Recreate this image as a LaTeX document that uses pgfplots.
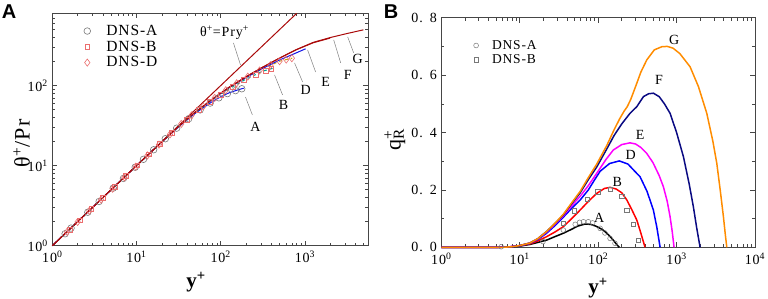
\documentclass[border=0pt]{standalone}
\usepackage{fontspec}
\setmainfont{Liberation Serif}[LetterSpace=6]
\newfontfamily\panelfont{Liberation Sans}
\usepackage{pgfplots}
\pgfplotsset{compat=1.18}
\definecolor{dred}{RGB}{170,10,10}
\definecolor{ablue}{RGB}{20,20,230}
\definecolor{teal2}{RGB}{0,160,140}
\definecolor{olive2}{RGB}{200,165,0}
\definecolor{pinkm}{RGB}{235,110,110}
\definecolor{grym}{RGB}{120,120,120}
\definecolor{orng}{RGB}{255,140,0}
\definecolor{navy2}{RGB}{10,10,130}
\definecolor{magn}{RGB}{255,0,255}
\definecolor{axc}{RGB}{70,70,70}
\pgfplotsset{
  common/.style={
    scale only axis, clip=false,
    tick align=inside, major tick length=5pt, minor tick length=3pt,
    axis line style={axc, line width=0.8pt},
    every tick/.style={axc, line width=0.6pt},
    ticklabel style={font=\fontsize{14}{14}\selectfont, text=black},
    xticklabel style={yshift=-2pt},
    yticklabel style={xshift=-1pt},
  }
}
\begin{document}
\begin{tikzpicture}
\useasboundingbox (0,0) rectangle (768pt,298pt);
% ---------------- Panel A ----------------
\begin{axis}[common,
  at={(52.3pt,52.3pt)}, anchor=south west,
  width=315.7pt, height=232.4pt,
  xmode=log, ymode=log, xmin=1, xmax=5620, ymin=1, ymax=800,
  xtick={1,10,100,1000}, xticklabels={10\textsuperscript{0},10\textsuperscript{1},10\textsuperscript{2},10\textsuperscript{3}},
  ytick={1,10,100}, yticklabels={10\textsuperscript{0},10\textsuperscript{1},10\textsuperscript{2}},
  minor xtick={2,3,4,5,6,7,8,9,20,30,40,50,60,70,80,90,200,300,400,500,600,700,800,900,2000,3000,4000,5000},
  minor ytick={2,3,4,5,6,7,8,9,20,30,40,50,60,70,80,90,200,300,400,500,600,700},
  xlabel={\bfseries y\textsuperscript{+}},
  ylabel={θ\textsuperscript{+}/Pr},
  xlabel style={at={(axis description cs:0.455,-0.156)}, anchor=center, font=\fontsize{21}{21}\selectfont},
  ylabel style={at={(axis description cs:-0.097,0.44)}, anchor=center, font=\fontsize{22}{22}\selectfont},
  legend image code/.code={\draw[#1] plot coordinates {(5pt,0pt)}; \path[draw=none,fill=none] (0pt,0pt) -- (22pt,0pt);},
  legend style={draw=none, fill=none, at={(0.088,0.967)}, anchor=north west,
    font=\fontsize{15.5}{17}\selectfont, row sep=0pt, inner sep=2pt},
  legend cell align=left,
]
\addplot[only marks, mark=o, mark size=3.3pt, grym, line width=0.6pt] coordinates {
(1.42,1.41)(1.67,1.66)(2.64,2.62)(3.6,3.57)(5.3,5.25)(7.0,6.93)(9.65,9.55)(12.1,12)(16,15.8)(22,21.7)(30,29.4)(41.7,38.6)(57,49.7)(75,60.5)(95,70.3)(120,79.4)(150,86.5)(178,91.3)};
\addlegendentry{DNS-A}
\addplot[only marks, mark=square, mark size=2.4pt, pinkm, line width=0.6pt] coordinates {
(1.6,1.58)(2.1,2.08)(2.9,2.87)(4.0,3.96)(5.5,5.45)(7.5,7.43)(10.2,10.1)(14,13.9)(19,18.8)(26,25.6)(40,37.8)(55,49.7)(75,63.2)(100,77.6)(140,97.2)(190,116.8)(260,137.4)(340,154.5)(400,162.2)};
\addlegendentry{DNS-B}
\addplot[only marks, mark=diamond, mark size=3.6pt, pinkm, line width=0.6pt] coordinates {
(1.5,1.49)(2.0,1.98)(2.75,2.72)(3.8,3.76)(5.2,5.15)(7.2,7.13)(9.8,9.7)(13.5,13.4)(18.5,18.3)(25,24.6)(34,33.2)(45,42.4)(62,55)(85,70.2)(115,87.5)(155,107)(210,129.4)(290,154.5)(390,180)(500,201.8)(600,211.3)(700,219.8)};
\addlegendentry{DNS-D}
% curves
\addplot[ablue, line width=1pt, forget plot] coordinates {
(1,1)(10,10)(20,19.8)(31.6,30.5)(50.1,45.2)(79.4,63.1)(100,72.4)(125.9,81.3)(158.5,88.1)(188,92.9)};
\addplot[teal2, line width=1pt, dashed, forget plot] coordinates {
(1,1)(10,10)(20,19.8)(31.6,30.8)(50.1,46.2)(79.4,66.1)(125.9,91.2)(199.5,120.2)(316,151.4)(420,165)};
\addplot[olive2, line width=1pt, dashed, forget plot] coordinates {
(1,1)(10,10)(20,19.8)(31.6,30.9)(50.1,46.7)(79.4,66.8)(125.9,93.3)(199.5,125.9)(316,162.2)(501,201.8)(708,220.3)};
\addplot[ablue, line width=1pt, forget plot] coordinates {
(1,1)(10,10)(20,19.8)(31.6,30.9)(50.1,46.6)(79.4,67)(125.9,94.4)(199.5,125.9)(316,164)(501,209)(794,257)(1019,288)};
\addplot[dred, line width=1pt, forget plot] coordinates {
(1,1)(10,10)(20,19.8)(31.6,30.9)(50.1,46.8)(79.4,67.6)(125.9,95.5)(199.5,128.8)(316,170)(501,221)(794,281)(1259,343)(1995,392)};
\addplot[dred, line width=1pt, forget plot] coordinates {
(1,1)(10,10)(20,19.8)(31.6,30.9)(50.1,46.8)(79.4,67.6)(125.9,95.5)(199.5,128.8)(316,170)(501,221)(794,282)(1259,347)(1995,398)(3162,447)(4955,497)};
\addplot[dred, line width=1pt, forget plot] coordinates {(1,1)(800,800)};
% annotations
\draw[gray, line width=0.5pt] (axis cs:141.6,342) -- (axis cs:172,181);
\draw[gray, line width=0.5pt] (axis cs:197,72) -- (axis cs:238,43);
\draw[gray, line width=0.5pt] (axis cs:436,136) -- (axis cs:543,76.6);
\draw[gray, line width=0.5pt] (axis cs:754,192) -- (axis cs:940,111);
\draw[gray, line width=0.5pt] (axis cs:1077,279) -- (axis cs:1341,148);
\draw[gray, line width=0.5pt] (axis cs:2197,373) -- (axis cs:2663,192);
\draw[gray, line width=0.5pt] (axis cs:3224,406) -- (axis cs:3800,256);
\begin{scope}[every node/.style={font=\fontsize{14}{14}\selectfont, inner sep=0pt}]
\node at (axis cs:111,456) {θ\textsuperscript{+}=Pry\textsuperscript{+}};
\node at (axis cs:259,30.5) {A};
\node at (axis cs:558,57) {B};
\node at (axis cs:1019,88) {D};
\node at (axis cs:1763,111) {E};
\node at (axis cs:3224,136) {F};
\node at (axis cs:4240,216) {G};
\end{scope}
\end{axis}
% ---------------- Panel B ----------------
\begin{axis}[common,
  at={(441.3pt,50.7pt)}, anchor=south west,
  width=313.7pt, height=229.6pt,
  xmode=log, xmin=1, xmax=10000, ymin=0, ymax=0.8,
  xtick={1,10,100,1000,10000}, xticklabels={10\textsuperscript{0},10\textsuperscript{1},10\textsuperscript{2},10\textsuperscript{3},10\textsuperscript{4}},
  minor xtick={2,3,4,5,6,7,8,9,20,30,40,50,60,70,80,90,200,300,400,500,600,700,800,900,2000,3000,4000,5000,6000,7000,8000,9000},
  ytick={0,0.2,0.4,0.6,0.8},
  yticklabels={0.\hspace{0.5em}0,0.\hspace{0.5em}2,0.\hspace{0.5em}4,0.\hspace{0.5em}6,0.\hspace{0.5em}8},
  minor ytick={0.1,0.3,0.5,0.7},
  xlabel={\bfseries y\textsuperscript{+}},
  ylabel={q\rlap{\textsuperscript{+}}\textsubscript{R}},
  xlabel style={at={(axis description cs:0.5,-0.177)}, anchor=center, font=\fontsize{21}{21}\selectfont},
  ylabel style={at={(axis description cs:-0.148,0.467)}, anchor=center, font=\fontsize{22}{22}\selectfont},
  legend image code/.code={\draw[#1] plot coordinates {(5pt,0pt)}; \path[draw=none,fill=none] (0pt,0pt) -- (19pt,0pt);},
  legend style={draw=none, fill=none, at={(0.088,0.92)}, anchor=north west,
    font=\fontsize{13.5}{16}\selectfont, row sep=0pt, inner sep=2pt},
  legend cell align=left,
]
\addplot[only marks, mark=o, mark size=2.4pt, grym, line width=0.5pt] coordinates {
(5.8,0.002)(19.8,0.02)(36,0.06)(51,0.08)(58,0.087)(65,0.089)(75,0.089)(85,0.085)(106,0.066)(122,0.05)(142,0.031)(164,0.014)};
\addlegendentry{DNS-A}
\addplot[only marks, mark=square, mark size=2.2pt, grym, line width=0.5pt] coordinates {
(36,0.084)(50,0.127)(73,0.167)(99,0.193)(142,0.203)(200,0.178)(232,0.13)(281,0.08)(326,0.025)};
\addlegendentry{DNS-B}
\addplot[black, line width=1.5pt, forget plot] coordinates {
(1,0)(5,0)(7,0.001)(10,0.004)(13.5,0.01)(17,0.017)(22,0.025)(28,0.037)(36,0.049)(46,0.063)(55,0.074)(68,0.081)(80,0.08)(95,0.073)(116,0.06)(135,0.044)(156,0.025)(172,0.01)(186,0)};
\addplot[red, line width=1.5pt, forget plot] coordinates {
(1,0)(5.5,0)(7,0.001)(10,0.005)(13.5,0.012)(17,0.022)(22,0.037)(28,0.053)(36,0.072)(46,0.10)(59,0.13)(75,0.16)(96,0.188)(120,0.205)(142,0.209)(170,0.203)(200,0.19)(232,0.165)(270,0.13)(311,0.095)(350,0.05)(396,0)};
\addplot[blue, line width=1.5pt, forget plot] coordinates {
(1,0)(5.5,0)(7,0.001)(10,0.005)(13.5,0.014)(17,0.027)(22,0.049)(28,0.075)(36,0.105)(46,0.136)(59,0.165)(75,0.2)(90,0.235)(106,0.265)(140,0.292)(186,0.301)(240,0.29)(300,0.262)(342,0.246)(420,0.195)(506,0.13)(560,0.07)(617,0)};
\addplot[magn, line width=1.5pt, forget plot] coordinates {
(1,0)(5.5,0)(7,0.001)(10,0.006)(13.5,0.015)(17,0.029)(22,0.053)(28,0.08)(36,0.110)(46,0.145)(59,0.178)(75,0.215)(96,0.258)(125,0.305)(156,0.339)(200,0.358)(255,0.364)(300,0.36)(350,0.348)(417,0.327)(500,0.295)(600,0.25)(679,0.211)(760,0.16)(826,0.107)(880,0.055)(929,0)};
\addplot[navy2, line width=1.5pt, forget plot] coordinates {
(1,0)(6,0)(8,0.002)(10,0.006)(13.5,0.015)(17,0.03)(22,0.055)(28,0.082)(36,0.113)(46,0.152)(59,0.19)(75,0.236)(96,0.28)(129,0.343)(160,0.39)(200,0.43)(255,0.467)(311,0.49)(378,0.525)(440,0.535)(506,0.537)(600,0.525)(700,0.50)(826,0.467)(1000,0.40)(1222,0.316)(1450,0.22)(1638,0.141)(1800,0.07)(1995,0)};
\addplot[orng, line width=1.5pt, forget plot] coordinates {
(1,0)(6,0)(8,0.002)(10,0.006)(13.5,0.015)(17,0.03)(22,0.055)(28,0.083)(36,0.115)(46,0.155)(59,0.195)(75,0.243)(96,0.29)(129,0.355)(160,0.41)(190,0.45)(215,0.475)(235,0.49)(260,0.515)(300,0.56)(350,0.61)(417,0.653)(520,0.688)(650,0.699)(760,0.700)(900,0.694)(1100,0.675)(1487,0.629)(1900,0.56)(2427,0.467)(2900,0.37)(3256,0.293)(3600,0.20)(3956,0.107)(4200,0.04)(4370,0)};
\begin{scope}[every node/.style={font=\fontsize{14}{14}\selectfont, inner sep=0pt}]
\node at (axis cs:929,0.722) {G};
\node at (axis cs:598,0.583) {F};
\node at (axis cs:342,0.391) {E};
\node at (axis cs:260,0.322) {D};
\node at (axis cs:176,0.229) {B};
\node at (axis cs:103,0.101) {A};
\end{scope}
\end{axis}
\node[font=\panelfont\bfseries\fontsize{20}{20}\selectfont, inner sep=0pt] at (9pt,286pt) {A};
\node[font=\panelfont\bfseries\fontsize{20}{20}\selectfont, inner sep=0pt] at (391pt,286pt) {B};
\end{tikzpicture}
\end{document}
